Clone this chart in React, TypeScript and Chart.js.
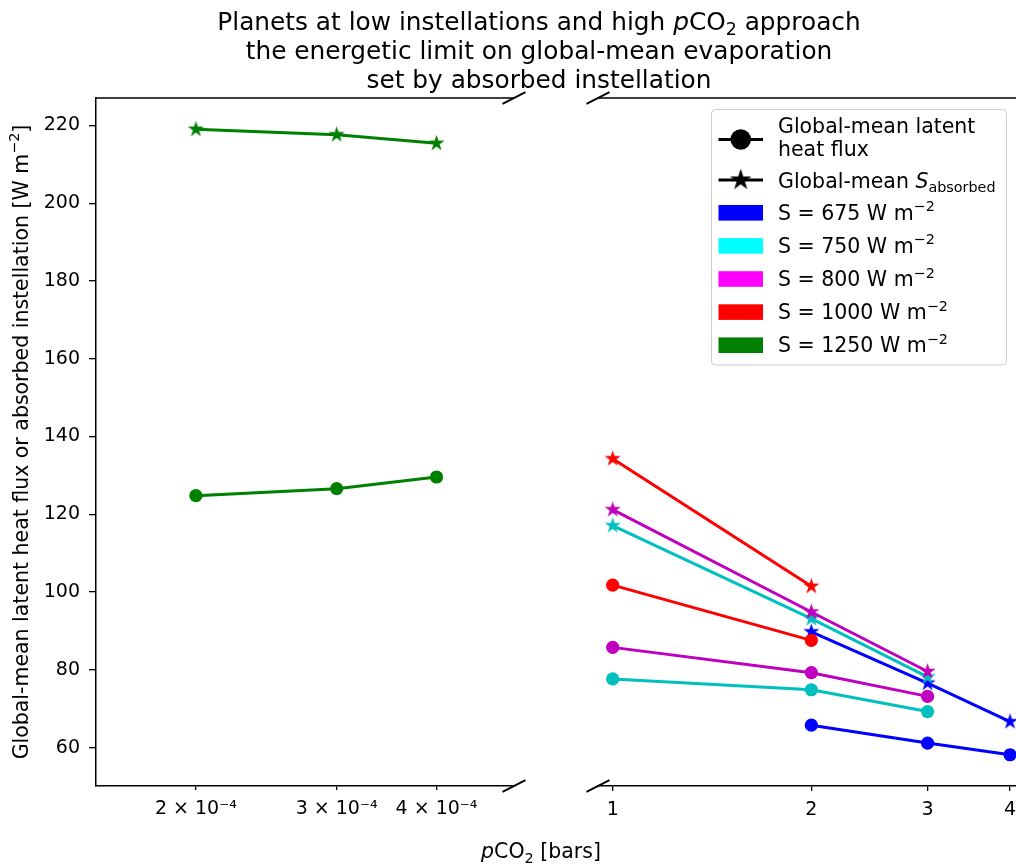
import React, { useEffect, useRef } from "react";
import { Chart, registerables } from "chart.js";
Chart.register(...registerables);

// ---------------- data ----------------
const leftTickValues = [2e-4, 3e-4, 4e-4];
const leftTickLabels = ["2 × 10⁻⁴", "3 × 10⁻⁴", "4 × 10⁻⁴"];
const rightTickValues = [1, 2, 3, 4];
const rightTickLabels = ["1", "2", "3", "4"];
const yTickValues = [60, 80, 100, 120, 140, 160, 180, 200, 220];

const s1250Pco2 = [2e-4, 3e-4, 4e-4];
const s1250Latent = [124.8, 126.6, 129.6];
const s1250Absorbed = [219.0, 217.6, 215.4];

const s1000Pco2 = [1, 2];
const s1000Latent = [101.8, 87.6];
const s1000Absorbed = [134.3, 101.5];

const s800Pco2 = [1, 2, 3];
const s800Latent = [85.8, 79.3, 73.2];
const s800Absorbed = [121.2, 94.9, 79.6];

const s750Pco2 = [1, 2, 3];
const s750Latent = [77.7, 74.9, 69.3];
const s750Absorbed = [117.1, 93.2, 78.2];

const s675Pco2 = [2, 3, 4];
const s675Latent = [65.8, 61.2, 58.2];
const s675Absorbed = [89.8, 76.6, 66.7];

const legendValues = ["675", "750", "800", "1000", "1250"];

// ---------------- styles ----------------
const FAMILY = "'DejaVu Sans', sans-serif";
const BLUE = "rgb(0,0,255)";
const CYAN_LINE = "rgb(0,191,191)";
const MAG_LINE = "rgb(191,0,191)";
const RED = "rgb(255,0,0)";
const GREEN = "rgb(0,128,0)";
const legendColors = ["rgb(0,0,255)", "rgb(0,255,255)", "rgb(255,0,255)", "rgb(255,0,0)", "rgb(0,128,0)"];

const Y_MIN = 50.16;
const Y_MAX = 227.04;
const TICK_FONT = 19;
const LABEL_FONT = 20.5;

function makeStar(color: string, R: number): HTMLCanvasElement {
  const size = Math.ceil(2 * R + 4);
  const c = document.createElement("canvas");
  c.width = size;
  c.height = size;
  const ctx = c.getContext("2d")!;
  const cx = size / 2, cy = size / 2;
  const r = R * 0.381966;
  ctx.beginPath();
  for (let i = 0; i < 10; i++) {
    const ang = -Math.PI / 2 + (i * Math.PI) / 5;
    const rad = i % 2 === 0 ? R : r;
    const px = cx + rad * Math.cos(ang);
    const py = cy + rad * Math.sin(ang);
    if (i === 0) ctx.moveTo(px, py);
    else ctx.lineTo(px, py);
  }
  ctx.closePath();
  ctx.fillStyle = color;
  ctx.fill();
  ctx.lineWidth = 1.3;
  ctx.lineJoin = "miter";
  ctx.strokeStyle = color;
  ctx.stroke();
  return c;
}

type Part = { t: string; scale?: number; italic?: boolean; dy?: number };
const SUP = (t: string): Part => ({ t, scale: 0.7, dy: -0.42 });
const SUB = (t: string): Part => ({ t, scale: 0.7, dy: 0.22 });

function fontOf(p: Part, size: number) {
  return `${p.italic ? "italic " : ""}${size * (p.scale || 1)}px ${FAMILY}`;
}
function drawRich(ctx: CanvasRenderingContext2D, parts: Part[], x: number, y: number, size: number, align: "left" | "center") {
  let w = 0;
  for (const p of parts) {
    ctx.font = fontOf(p, size);
    w += ctx.measureText(p.t).width;
  }
  let cx = align === "center" ? x - w / 2 : x;
  ctx.textAlign = "left";
  ctx.textBaseline = "alphabetic";
  for (const p of parts) {
    ctx.font = fontOf(p, size);
    ctx.fillText(p.t, cx, y + (p.dy || 0) * size);
    cx += ctx.measureText(p.t).width;
  }
}

const titleLines: Part[][] = [
  [{ t: "Planets at low instellations and high " }, { t: "p", italic: true }, { t: "CO" }, SUB("2"), { t: " approach" }],
  [{ t: "the energetic limit on global-mean evaporation" }],
  [{ t: "set by absorbed instellation" }],
];
const yTitle: Part[] = [{ t: "Global-mean latent heat flux or absorbed instellation [W m" }, SUP("−2"), { t: "]" }];
const xTitle: Part[] = [{ t: "p", italic: true }, { t: "CO" }, SUB("2"), { t: " [bars]" }];

function breakMark(ctx: CanvasRenderingContext2D, x: number, y: number) {
  ctx.beginPath();
  ctx.moveTo(x - 11.5, y + 5.8);
  ctx.lineTo(x + 11.5, y - 5.8);
  ctx.stroke();
}

const leftDecor = {
  id: "leftDecor",
  afterDraw(chart: any) {
    const { ctx, chartArea: a } = chart;
    ctx.save();
    ctx.strokeStyle = "#000";
    ctx.lineWidth = 1.5;
    ctx.beginPath();
    ctx.moveTo(a.left, a.top);
    ctx.lineTo(a.right, a.top);
    ctx.stroke();
    ctx.lineWidth = 1.9;
    breakMark(ctx, a.right, a.top);
    breakMark(ctx, a.right, a.bottom);
    ctx.fillStyle = "#000";
    const base = [30, 59, 88];
    titleLines.forEach((ln, i) => drawRich(ctx, ln, 539, base[i], 24.8, "center"));
    drawRich(ctx, xTitle, 541, 858, LABEL_FONT, "center");
    ctx.save();
    ctx.translate(28, (a.top + a.bottom) / 2);
    ctx.rotate(-Math.PI / 2);
    drawRich(ctx, yTitle, 0, 0, LABEL_FONT, "center");
    ctx.restore();
    ctx.restore();
  },
};

const rightDecor = {
  id: "rightDecor",
  afterDraw(chart: any) {
    const { ctx, chartArea: a } = chart;
    ctx.save();
    ctx.strokeStyle = "#000";
    ctx.lineWidth = 1.5;
    ctx.beginPath();
    ctx.moveTo(a.left, a.top);
    ctx.lineTo(a.right, a.top);
    ctx.stroke();
    ctx.lineWidth = 1.9;
    breakMark(ctx, a.left, a.top);
    breakMark(ctx, a.left, a.bottom);

    // legend box
    const bx = 711.5, by = 109.5, bw = 295, bh = 255.5;
    ctx.beginPath();
    ctx.roundRect(bx, by, bw, bh, 4);
    ctx.fillStyle = "rgba(255,255,255,0.8)";
    ctx.fill();
    ctx.strokeStyle = "#cccccc";
    ctx.lineWidth = 1;
    ctx.stroke();

    const hx0 = 718.5, hx1 = 763, hxc = (hx0 + hx1) / 2;
    const tx = 778;
    // entry 1: circle
    ctx.strokeStyle = "#000";
    ctx.lineWidth = 2.9;
    ctx.beginPath();
    ctx.moveTo(hx0, 139.5);
    ctx.lineTo(hx1, 139.5);
    ctx.stroke();
    ctx.fillStyle = "#000";
    ctx.beginPath();
    ctx.arc(hxc, 139.5, 10.3, 0, Math.PI * 2);
    ctx.fill();
    drawRich(ctx, [{ t: "Global-mean latent" }], tx, 132.5, LABEL_FONT, "left");
    drawRich(ctx, [{ t: "heat flux" }], tx, 155.5, LABEL_FONT, "left");
    // entry 2: star
    ctx.beginPath();
    ctx.moveTo(hx0, 180);
    ctx.lineTo(hx1, 180);
    ctx.stroke();
    const st = makeStar("#000", 9.2);
    ctx.drawImage(st, hxc - st.width / 2, 180 - st.height / 2);
    ctx.fillStyle = "#000";
    drawRich(ctx, [{ t: "Global-mean " }, { t: "S", italic: true }, SUB("absorbed")], tx, 187.5, LABEL_FONT, "left");
    // patches
    legendValues.forEach((v, i) => {
      const cy = 212.8 + i * 33.1;
      ctx.fillStyle = legendColors[i];
      ctx.fillRect(hx0, cy - 7.8, hx1 - hx0, 15.6);
      ctx.fillStyle = "#000";
      drawRich(ctx, [{ t: `S = ${v} W m` }, SUP("−2")], tx, cy + 7.2, LABEL_FONT, "left");
    });
    ctx.restore();
  },
};

function series(xs: number[], ys: number[], color: string, kind: "circle" | "star", order: number) {
  return {
    data: xs.map((x, i) => ({ x, y: ys[i] })),
    borderColor: color,
    backgroundColor: color,
    pointBackgroundColor: color,
    pointBorderColor: color,
    pointBorderWidth: 0,
    pointStyle: kind === "circle" ? "circle" : makeStar(color, 6.4),
    pointRadius: 6.6,
    borderWidth: 3,
    fill: false,
    tension: 0,
    order,
  };
}

function xScale(min: number, max: number, values: number[], labels: string[], tickLen: number) {
  return {
    type: "logarithmic",
    position: "bottom",
    min,
    max,
    afterFit: (s: any) => { s.height = 79; },
    afterBuildTicks: (s: any) => { s.ticks = values.map((v) => ({ value: v })); },
    ticks: {
      callback: (_v: any, i: number) => labels[i],
      font: { family: FAMILY, size: TICK_FONT },
      color: "#000",
      padding: 8,
      maxRotation: 0,
      autoSkip: false,
    },
    grid: { display: true, drawOnChartArea: false, drawTicks: true, tickLength: tickLen, color: "#000", lineWidth: 1.3 },
    border: { display: true, color: "#000", width: 1.5 },
  };
}

const yScaleShown = {
  type: "linear",
  min: Y_MIN,
  max: Y_MAX,
  afterFit: (s: any) => { s.width = 96; },
  afterBuildTicks: (s: any) => { s.ticks = yTickValues.map((v) => ({ value: v })); },
  ticks: { font: { family: FAMILY, size: TICK_FONT }, color: "#000", padding: 9, callback: (v: any) => String(v) },
  grid: { display: true, drawOnChartArea: false, drawTicks: true, tickLength: 7, color: "#000", lineWidth: 1.3 },
  border: { display: true, color: "#000", width: 1.5 },
};

export default function App() {
  const leftRef = useRef<HTMLCanvasElement>(null);
  const rightRef = useRef<HTMLCanvasElement>(null);
  useEffect(() => {
    const common = {
      animation: false,
      responsive: false,
      devicePixelRatio: 1,
      plugins: { legend: { display: false }, tooltip: { enabled: false }, title: { display: false } },
      events: [],
    };
    const left = new Chart(leftRef.current!, {
      type: "line",
      data: {
        datasets: [
          series(s1250Pco2, s1250Latent, GREEN, "circle", 0),
          series(s1250Pco2, s1250Absorbed, GREEN, "star", -1),
        ],
      },
      options: {
        ...common,
        layout: { padding: { left: 0, top: 98, right: 1016 - 514, bottom: 0 } },
        scales: {
          x: xScale(1.5e-4, 5e-4, leftTickValues, leftTickLabels, 4),
          y: yScaleShown,
        },
      } as any,
      plugins: [leftDecor],
    } as any);
    const right = new Chart(rightRef.current!, {
      type: "line",
      data: {
        datasets: [
          series(s675Pco2, s675Latent, BLUE, "circle", 0),
          series(s675Pco2, s675Absorbed, BLUE, "star", -1),
          series(s750Pco2, s750Latent, CYAN_LINE, "circle", -2),
          series(s750Pco2, s750Absorbed, CYAN_LINE, "star", -3),
          series(s800Pco2, s800Latent, MAG_LINE, "circle", -4),
          series(s800Pco2, s800Absorbed, MAG_LINE, "star", -5),
          series(s1000Pco2, s1000Latent, RED, "circle", -6),
          series(s1000Pco2, s1000Absorbed, RED, "star", -7),
        ],
      },
      options: {
        ...common,
        layout: { padding: { left: 598, top: 98, right: 1100 - 1024, bottom: 0 } },
        scales: {
          x: xScale(0.95, 4.2, rightTickValues, rightTickLabels, 5),
          y: { type: "linear", display: false, min: Y_MIN, max: Y_MAX },
        },
      } as any,
      plugins: [rightDecor],
    } as any);
    return () => {
      left.destroy();
      right.destroy();
    };
  }, []);
  return (
    <div style={{ position: "absolute", left: 0, top: 0, width: 1016, height: 865, overflow: "hidden", background: "#fff" }}>
      <canvas ref={rightRef} width={1100} height={865} style={{ position: "absolute", left: 0, top: 0, width: 1100, height: 865 }} />
      <canvas ref={leftRef} width={1016} height={865} style={{ position: "absolute", left: 0, top: 0, width: 1016, height: 865 }} />
    </div>
  );
}
